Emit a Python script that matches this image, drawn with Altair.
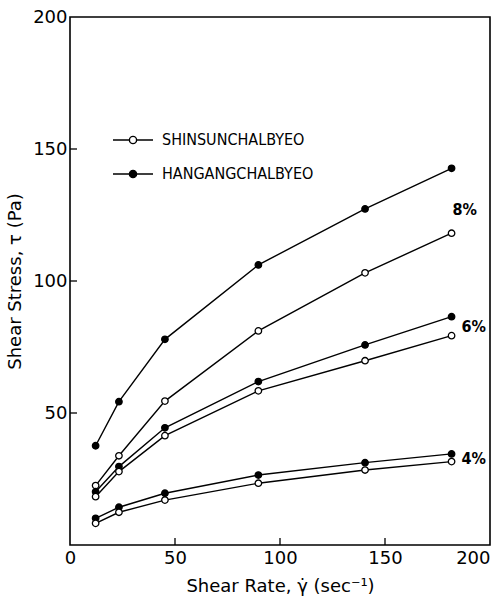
import altair as alt
import pandas as pd

# shear rate (sec^-1)
shear_rate = [12.2, 23.3, 45.2, 89.7, 140.5, 181.7]

# shear stress (Pa)
hangang_8 = [37.6, 54.3, 77.9, 106.1, 127.3, 142.7]
shinsun_8 = [22.5, 33.8, 54.5, 81.1, 103.1, 118.1]
hangang_6 = [20.2, 29.7, 44.4, 61.9, 75.8, 86.5]
shinsun_6 = [18.3, 27.8, 41.4, 58.4, 69.8, 79.3]
hangang_4 = [10.1, 14.3, 19.6, 26.5, 31.2, 34.5]
shinsun_4 = [8.2, 12.4, 17.0, 23.4, 28.4, 31.6]

varieties = ["SHINSUNCHALBYEO", "HANGANGCHALBYEO"]
concentrations = ["8%", "6%", "4%"]
x_ticks = [50, 100, 150]
y_ticks = [50, 100, 150]

series = {
    ("HANGANGCHALBYEO", "8%"): hangang_8,
    ("SHINSUNCHALBYEO", "8%"): shinsun_8,
    ("HANGANGCHALBYEO", "6%"): hangang_6,
    ("SHINSUNCHALBYEO", "6%"): shinsun_6,
    ("HANGANGCHALBYEO", "4%"): hangang_4,
    ("SHINSUNCHALBYEO", "4%"): shinsun_4,
}

rows = []
for (var, conc), vals in series.items():
    for x, y in zip(shear_rate, vals):
        rows.append({"variety": var, "conc": conc, "series": var + conc, "x": x, "y": y})
df = pd.DataFrame(rows)

lab_rows = []
for conc in concentrations:
    ys = [series[(v, conc)][-1] for v in varieties]
    lab_rows.append({"conc": conc, "x": shear_rate[-1], "y": sum(ys) / len(ys)})
lab_df = pd.DataFrame(lab_rows)

W, H = 420, 528
FONT = "DejaVu Sans"
CFONT = "DejaVu Sans Condensed, Liberation Sans Narrow, DejaVu Sans"

xscale = alt.Scale(domain=[0, 200], nice=False, zero=True)
yscale = alt.Scale(domain=[0, 200], nice=False, zero=True)

xaxis = alt.Axis(
    values=[0, 50, 100, 150, 200], title="Shear Rate, γ̇ (sec⁻¹)", ticks=False, domain=False,
    grid=False, labelFont=FONT, labelFontSize=18, labelColor="black", labelPadding=4,
    labelAlign=alt.expr("datum.value == 200 ? 'right' : 'center'"),
    titleFont=FONT, titleFontSize=18, titleFontWeight="normal", titleColor="black",
    titlePadding=10,
)
yaxis = alt.Axis(
    values=[50, 100, 150, 200], title="Shear Stress, τ (Pa)", ticks=False, domain=False,
    grid=False, labelFont=FONT, labelFontSize=18, labelColor="black", labelPadding=3,
    titleFont=FONT, titleFontSize=18, titleFontWeight="normal", titleColor="black",
    titlePadding=8,
)

base = alt.Chart(df)

lines = base.mark_line(color="black", strokeWidth=1.4).encode(
    x=alt.X("x:Q", scale=xscale, axis=xaxis),
    y=alt.Y("y:Q", scale=yscale, axis=yaxis),
    detail="series:N",
)

sym = ("M-5,0L-0.9,0M0.9,0L5,0M-0.9,0A0.9,0.9,0,1,1,0.9,0A0.9,0.9,0,1,1,-0.9,0Z")

points = base.mark_point(filled=True, stroke="black", strokeWidth=1.3, size=42, opacity=1).encode(
    x=alt.X("x:Q", scale=xscale),
    y=alt.Y("y:Q", scale=yscale),
    fill=alt.Fill(
        "variety:N",
        scale=alt.Scale(domain=varieties, range=["white", "black"]),
        legend=alt.Legend(
            orient="none", legendX=55, legendY=115, title=None, padding=0,
            symbolType=sym, symbolSize=64, symbolStrokeColor="black", symbolStrokeWidth=1.4,
            labelFont=CFONT, labelFontSize=16, labelColor="black", labelOffset=21,
            rowPadding=18, symbolOpacity=1,
        ),
    ),
)

lab_style = dict(align="left", baseline="middle", font=CFONT, fontSize=16,
                 fontWeight="bold", color="black")

labels_top = alt.Chart(lab_df).transform_filter(alt.datum.conc == "8%").mark_text(
    dx=1, dy=9, **lab_style
).encode(
    x=alt.X("x:Q", scale=xscale), y=alt.Y("y:Q", scale=yscale), text="conc:N"
)
labels_low = alt.Chart(lab_df).transform_filter(alt.datum.conc != "8%").mark_text(
    dx=10, dy=1, **lab_style
).encode(
    x=alt.X("x:Q", scale=xscale), y=alt.Y("y:Q", scale=yscale), text="conc:N"
)

xt = alt.Chart(pd.DataFrame({"t": x_ticks})).mark_rule(color="black", strokeWidth=1.3).encode(
    x=alt.X("t:Q", scale=xscale), y=alt.value(H), y2=alt.value(H - 7)
)
yt = alt.Chart(pd.DataFrame({"t": y_ticks})).mark_rule(color="black", strokeWidth=1.3).encode(
    y=alt.Y("t:Q", scale=yscale), x=alt.value(0), x2=alt.value(7)
)

chart = alt.layer(lines, points, labels_top, labels_low, xt, yt).properties(
    width=W, height=H,
    autosize=alt.AutoSizeParams(type="none"),
    padding={"left": 70, "top": 17, "right": 6, "bottom": 56},
    background="white",
).configure_view(stroke="black", strokeWidth=1.6)

chart.save("out.html", embed_options={"renderer": "svg", "actions": False})
